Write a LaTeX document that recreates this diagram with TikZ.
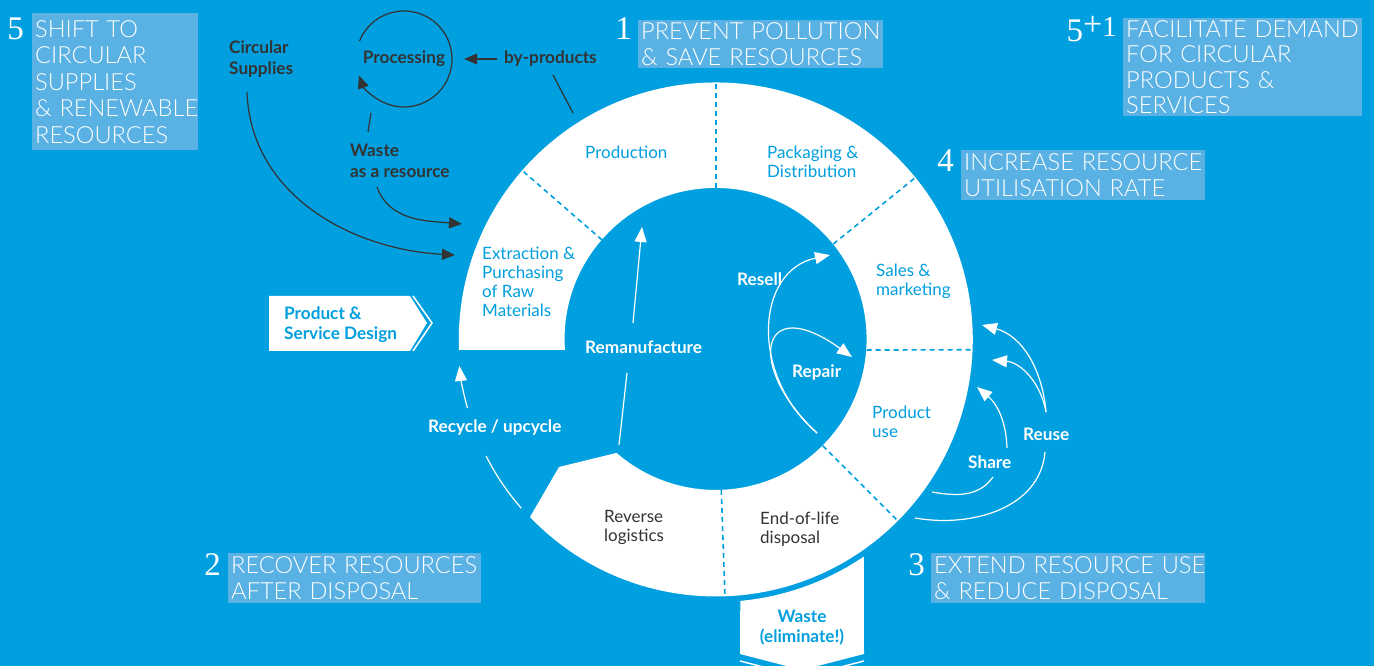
\documentclass[tikz,border=0pt]{standalone}
\usepackage{fontspec}
\setmainfont{Lato}
\newfontfamily\thinfont{Lato Light}
\newfontfamily\numfont{Liberation Serif}
\usetikzlibrary{calc,positioning,arrows.meta}
\definecolor{bgblue}{RGB}{0,159,223}
\definecolor{boxblue}{RGB}{90,177,227}
\definecolor{darkgrey}{RGB}{51,51,51}
\hyphenpenalty=10000
\exhyphenpenalty=10000
\tikzset{
  segtext/.style={anchor=west, align=left, inner sep=0pt, text=bgblue, font=\fontsize{17}{19}\selectfont},
  greytext/.style={segtext, text=darkgrey},
  dlabel/.style={anchor=west, align=left, inner sep=0pt, text=darkgrey, font=\bfseries\fontsize{17.2}{20.5}\selectfont},
  wlabel/.style={dlabel, text=white},
  blabel/.style={dlabel, text=bgblue},
  lbox/.style={fill=boxblue, text=white, anchor=north west, align=left, inner xsep=3pt, inner ysep=0pt, font=\thinfont\fontsize{23.6}{26.5}\selectfont},
  num/.style={text=white, inner sep=0pt, font=\numfont\fontsize{33}{33}\selectfont},
  segline/.style={draw=bgblue, line width=1.6pt, dash pattern=on 5pt off 4pt},
  dline/.style={draw=darkgrey, line width=1.2pt},
  darrow/.style={dline, -{Triangle[length=13pt,width=11pt]}},
  wline/.style={draw=white, line width=1.2pt},
  warrow/.style={wline, -{Triangle[length=15pt,width=12pt]}},
}
\begin{document}
\begin{tikzpicture}[x=1pt, y=1pt]
  \useasboundingbox[fill=bgblue] (0,0) rectangle (1374,666);
  \coordinate (C) at (716,327);

  % the ring and its steps
  \fill[white] (458,316) -- (565,316) arc[start angle=184.2, end angle=-131, radius=151]
    -- (559,199) -- (530,149) arc[start angle=-136.3, end angle=182.4, radius=257] -- cycle;
  \foreach \a/\b in {139/139,90/90,39/39,-4.2/-2.4,-45/-45,-88/-88}
    \draw[segline] ($(C)+(\a:151)$) -- ($(C)+(\b:257)$);

  % waste out of the loop
  \fill[white] (740.3,65.1) arc[start angle=-84.7, end angle=-55.8, radius=263]
    -- (864,12) -- (802,-4) -- (740,12) -- cycle;
  \draw[wline, line width=1.5pt] (740,5) -- (802,-11) -- (864,5);
  \node[blabel, anchor=center, align=center] (waste) at (802,38.5) {Waste\\(eliminate!)};

  % design arrow
  \fill[white] (269,370) -- (410,370) -- (427,343) -- (410,315) -- (269,315) -- cycle;
  \draw[wline, line width=1.5pt] (413,370) -- (432,343) -- (413,315);
  \node[blabel] (psd) at (284,341.5) {Product \&\\Service Design};

  \node[segtext] (prod) at (585,514) {Production};
  \node[segtext] (pack) at (767,504.5) {Packaging \&\\Distribution};
  \node[segtext] (extr) at (482,384) {Extraction \&\\Purchasing\\of Raw\\Materials};
  \node[segtext] (sales) at (876,384.5) {Sales \&\\marketing};
  \node[segtext] (use) at (872,244.5) {Product\\use};
  \node[greytext] (eol) at (760,136.5) {End-of-life\\disposal};
  \node[greytext] (rev) at (604,138.5) {Reverse\\logistics};

  % supplies side
  \node[dlabel] (circ) at (229,607) {Circular\\Supplies};
  \node[dlabel, anchor=center, circle, minimum size=96pt] (proc) at (404,607) {Processing};
  \node[dlabel] (byprod) at (504,607) {by-products};
  \node[dlabel] (wres) at (350,505) {Waste\\as a resource};

  \coordinate (bpA) at (553,591);
  \coordinate (bpB) at (573,553);
  \coordinate (wrA) at (368,534);
  \coordinate (wrB) at (371,553);
  \coordinate (wrC) at (377,479);
  \coordinate (wrD) at (462,442);
  \coordinate (csA) at (247,574);
  \coordinate (csB) at (455,411);

  \draw[darrow] ($(proc.center)+(158:48)$) arc[start angle=158, end angle=-160, radius=48];
  \draw[darrow, shorten <=7pt, shorten >=12pt] (byprod.west) -- (proc.east);
  \draw[dline] (bpA) -- (bpB);
  \draw[dline] (wrA) -- (wrB);
  \draw[darrow] (wrC) to[out=-70, in=175] (wrD);
  \draw[darrow] (csA) to[out=-88, in=177] (csB);

  % loops inside and outside
  \node[wlabel] (reman) at (585,319) {Remanufacture};
  \node[wlabel] (resell) at (737,387) {Resell};
  \node[wlabel] (repair) at (792,293) {Repair};
  \node[wlabel] (recyc) at (428,238) {Recycle / upcycle};
  \node[wlabel] (share) at (968,204) {Share};
  \node[wlabel] (reuse) at (1023,232) {Reuse};

  \coordinate (rmA) at (619,221);
  \coordinate (rmB) at (627,293);
  \coordinate (rmC) at (633,343);
  \coordinate (rmD) at (642,439);
  \coordinate (rsS) at (817,233);
  \coordinate (rsT) at (830,411);
  \coordinate (rpT) at (852,309);
  \coordinate (ruA) at (1046,254);
  \coordinate (ruT1) at (982,341);
  \coordinate (ruT2) at (992,306);
  \coordinate (rlA) at (1045,214);
  \coordinate (rlB) at (915,148);
  \coordinate (shA) at (1007,218);
  \coordinate (shT) at (977,279);
  \coordinate (slA) at (993,189);
  \coordinate (slB) at (932,174);

  \draw[wline] (rmA) -- (rmB);
  \draw[warrow] (rmC) -- (rmD);
  \draw[warrow] ($(C)+(195.5:258)$) arc[start angle=195.5, end angle=186, radius=258];
  \draw[wline] ($(C)+(221:258)$) arc[start angle=221, end angle=207, radius=258];
  \draw[warrow] (rsS) .. controls (750,290) and (755,395) .. (rsT);
  \draw[warrow] (rsS) .. controls (745,300) and (760,375) .. (rpT);
  \draw[warrow] (ruA) to[out=95, in=-15] (ruT1);
  \draw[warrow] (ruA) to[out=100, in=-5] (ruT2);
  \draw[wline] (rlA) to[out=-95, in=-10] (rlB);
  \draw[warrow] (shA) to[out=92, in=-40] (shT);
  \draw[wline] (slA) to[out=-125, in=-10] (slB);

  % the five steps
  \node[lbox, text width=239pt, minimum height=48pt] (b1) at (638,646) {PREVENT~POLLUTION\\\&~SAVE~RESOURCES};
  \node[lbox, text width=160pt, minimum height=137pt] (b5) at (32,653) {SHIFT~TO\\CIRCULAR\\SUPPLIES\\\&~RENEWABLE\\RESOURCES};
  \node[lbox, text width=233pt, minimum height=98pt, font=\thinfont\fontsize{23.6}{25.3}\selectfont] (b6) at (1123,648) {FACILITATE~DEMAND\\FOR~CIRCULAR\\PRODUCTS~\&\\SERVICES};
  \node[lbox, text width=238pt, minimum height=50pt] (b4) at (961,516) {INCREASE~RESOURCE\\UTILISATION~RATE};
  \node[lbox, text width=247pt, minimum height=50pt] (b2) at (228,113) {RECOVER~RESOURCES\\AFTER~DISPOSAL};
  \node[lbox, text width=268pt, minimum height=50pt] (b3) at (931,113) {EXTEND~RESOURCE~USE\\\&~REDUCE~DISPOSAL};

  \node[num, left=6pt of b1.north west, anchor=north east, yshift=2pt] (n1) {1};
  \node[num, left=8pt of b5.north west, anchor=north east, yshift=-5pt] (n5) {5};
  \node[num, left=6pt of b6.north west, anchor=north east, yshift=2pt] (n6) {5\raisebox{5pt}{\fontsize{29}{29}\selectfont\raisebox{1pt}{\fontsize{34}{34}\selectfont+}1}};
  \node[num, left=7pt of b4.north west, anchor=north east] (n4) {4};
  \node[num, left=7pt of b2.north west, anchor=north east] (n2) {2};
  \node[num, left=6pt of b3.north west, anchor=north east] (n3) {3};
\end{tikzpicture}
\end{document}
